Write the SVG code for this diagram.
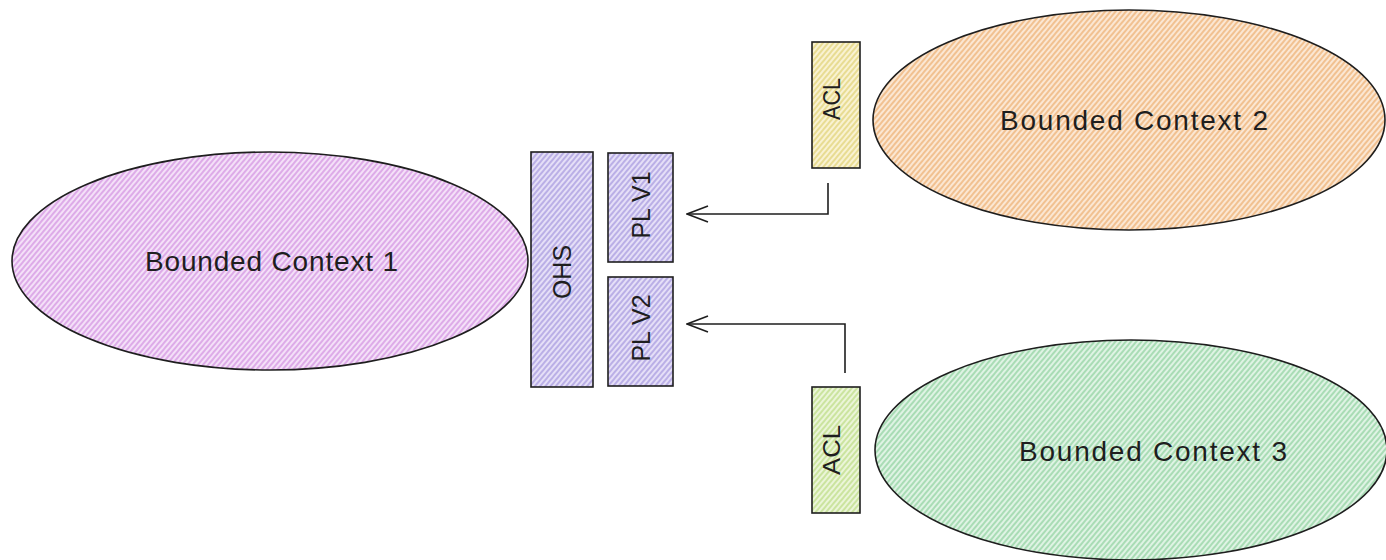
<svg xmlns="http://www.w3.org/2000/svg" width="1386" height="560" viewBox="0 0 1386 560">
<style>
.shape{stroke:#1e1e1e;stroke-width:1.6}
.lbl{font-family:"Liberation Sans",Arial,sans-serif;fill:#1e1e1e;text-anchor:middle}
.big{font-size:28px}
.mid{font-size:25px}
.sm{font-size:23px}
.conn{fill:none;stroke:#1e1e1e;stroke-width:1.6;stroke-linejoin:miter}
</style>
<defs>
<pattern id="hPurple" patternUnits="userSpaceOnUse" width="4" height="4" patternTransform="rotate(-50)">
<rect width="4" height="4" fill="#f4e0f8"/><line x1="0" y1="2" x2="4" y2="2" stroke="#d9a2e6" stroke-width="1.7"/>
</pattern>
<pattern id="hOrange" patternUnits="userSpaceOnUse" width="4" height="4" patternTransform="rotate(-50)">
<rect width="4" height="4" fill="#fbe7d3"/><line x1="0" y1="2" x2="4" y2="2" stroke="#f0ba85" stroke-width="1.7"/>
</pattern>
<pattern id="hGreen" patternUnits="userSpaceOnUse" width="4" height="4" patternTransform="rotate(-50)">
<rect width="4" height="4" fill="#dff3e4"/><line x1="0" y1="2" x2="4" y2="2" stroke="#9fd8ad" stroke-width="1.7"/>
</pattern>
<pattern id="hViolet" patternUnits="userSpaceOnUse" width="4" height="4" patternTransform="rotate(-50)">
<rect width="4" height="4" fill="#e5dff7"/><line x1="0" y1="2" x2="4" y2="2" stroke="#b3a6e3" stroke-width="1.7"/>
</pattern>
<pattern id="hYellow" patternUnits="userSpaceOnUse" width="4" height="4" patternTransform="rotate(-50)">
<rect width="4" height="4" fill="#f9f2d2"/><line x1="0" y1="2" x2="4" y2="2" stroke="#e6d888" stroke-width="1.7"/>
</pattern>
<pattern id="hLime" patternUnits="userSpaceOnUse" width="4" height="4" patternTransform="rotate(-50)">
<rect width="4" height="4" fill="#ebf5d8"/><line x1="0" y1="2" x2="4" y2="2" stroke="#c5e195" stroke-width="1.7"/>
</pattern>
<marker id="open" viewBox="0 0 24 20" refX="23" refY="10" markerWidth="24" markerHeight="20" markerUnits="userSpaceOnUse" orient="auto">
<path d="M2,2 L23,10 L2,18" fill="none" stroke="#1e1e1e" stroke-width="1.6"/>
</marker>
</defs>

<g id="bc1">
<ellipse class="shape" cx="270" cy="261" rx="258" ry="109" fill="url(#hPurple)"/>
<text class="lbl big" x="271.5" y="271" textLength="253" lengthAdjust="spacing">Bounded Context 1</text>
</g>

<g id="ohs">
<rect class="shape" x="531" y="152" width="62" height="235" fill="url(#hViolet)"/>
<text class="lbl mid" transform="translate(571,272) rotate(-90)">OHS</text>
</g>

<g id="plv1">
<rect class="shape" x="608" y="153" width="65" height="109" fill="url(#hViolet)"/>
<text class="lbl mid" transform="translate(650,205) rotate(-90)">PL V1</text>
</g>

<g id="plv2">
<rect class="shape" x="608" y="277" width="65" height="109" fill="url(#hViolet)"/>
<text class="lbl mid" transform="translate(650,328) rotate(-90)">PL V2</text>
</g>

<g id="acl1">
<rect class="shape" x="812" y="42" width="48" height="126" fill="url(#hYellow)"/>
<text class="lbl sm" transform="translate(840,99) rotate(-90)" textLength="42" lengthAdjust="spacingAndGlyphs">ACL</text>
</g>

<g id="acl2">
<rect class="shape" x="812" y="387" width="48" height="126" fill="url(#hLime)"/>
<text class="lbl sm" transform="translate(840,450) rotate(-90)" textLength="50" lengthAdjust="spacingAndGlyphs">ACL</text>
</g>

<g id="bc2">
<ellipse class="shape" cx="1129" cy="120" rx="256" ry="110" fill="url(#hOrange)"/>
<text class="lbl big" x="1134" y="130" textLength="268" lengthAdjust="spacing">Bounded Context 2</text>
</g>

<g id="bc3">
<ellipse class="shape" cx="1131" cy="450" rx="256" ry="110" fill="url(#hGreen)"/>
<text class="lbl big" x="1153" y="461" textLength="268" lengthAdjust="spacing">Bounded Context 3</text>
</g>

<g id="connectors">
<path class="conn" d="M828,183 L828,214 L687,214" marker-end="url(#open)"/>
<path class="conn" d="M845,373 L845,324 L687,324" marker-end="url(#open)"/>
</g>
</svg>
